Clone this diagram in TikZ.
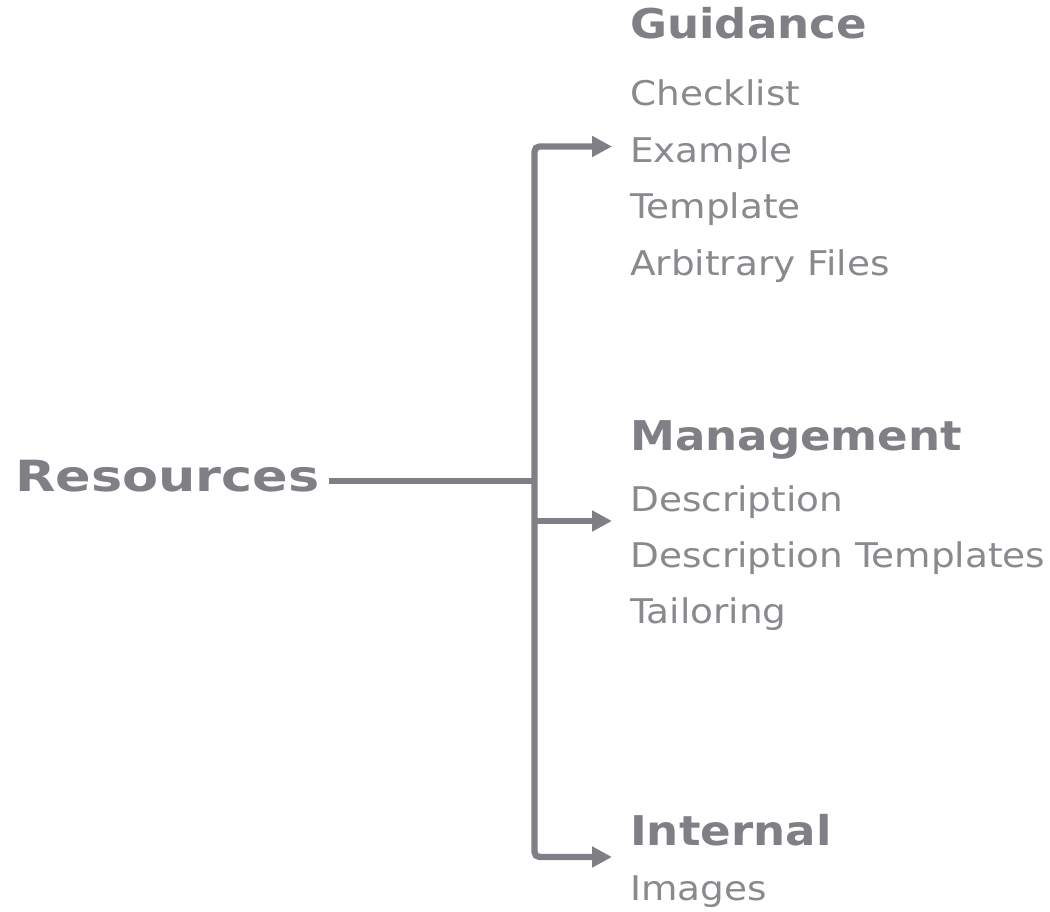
\documentclass[tikz,border=0pt]{standalone}
\usepackage{fontspec}
\setmainfont{DejaVu Sans}[FakeStretch=1.1]
\newfontfamily\resfont{DejaVu Sans}[FakeStretch=1.22]
\usetikzlibrary{arrows.meta}
\definecolor{linegray}{HTML}{7F7F85}
\definecolor{textgray}{HTML}{89898E}
\tikzset{
  conn/.style={draw=linegray, line width=6.3pt},
  tiphead/.tip={Triangle[length=20pt,width=20pt]},
  tip/.style={-tiphead},
  head/.style={anchor=base west, inner sep=0pt, text=linegray, font=\fontsize{41}{48}\selectfont\bfseries},
  item/.style={anchor=base west, inner sep=0pt, text=textgray, font=\fontsize{34}{40}\selectfont},
}
\begin{document}
\begin{tikzpicture}[x=1pt,y=-1pt]
\useasboundingbox (0,0) rectangle (1050,912);
% root
\node[anchor=base west, inner sep=0pt, text=linegray, font=\fontsize{43}{50}\selectfont\resfont\bfseries] (res) at (15,491) {Resources};
% Guidance
\node[head] (g) at (630,39) {Guidance};
\node[item] (g1) at (630,106) {Checklist};
\node[item] (g2) at (630,162.5) {Example};
\node[item] (g3) at (630,219) {Template};
\node[item] (g4) at (630,275.5) {Arbitrary Files};
% Management
\node[head] (m) at (630,450) {Management};
\node[item] (m1) at (630,511) {Description};
\node[item] (m2) at (630,567) {Description Templates};
\node[item] (m3) at (630,623) {Tailoring};
% Internal
\node[head] (i) at (630,845) {Internal};
\node[item] (i1) at (630,900) {Images};
% connectors
\coordinate (jr) at (534.5,481);
\coordinate (jm) at (534.5,521);
\coordinate (aG) at (612,146.5);
\coordinate (aM) at (612,521);
\coordinate (aI) at (612,857);
\coordinate (cTop) at (534.5,146.5);
\coordinate (cBot) at (534.5,857);
\draw[conn, tiphead-tiphead, rounded corners=5pt] (aG) -- (cTop) -- (cBot) -- (aI);
\draw[conn, tip] (jm) -- (aM);
\draw[conn] (res.east |- jr) ++(9,0) -- (jr);
\end{tikzpicture}
\end{document}
